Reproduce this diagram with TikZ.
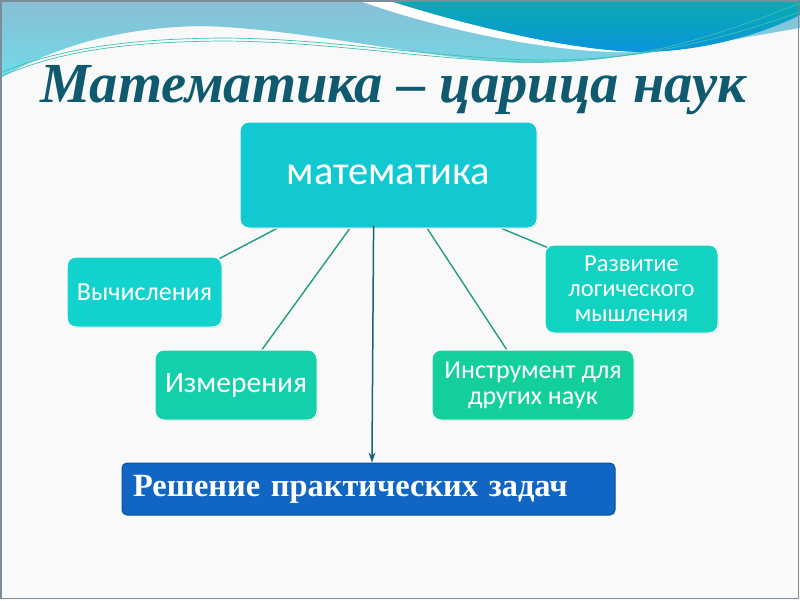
\documentclass[tikz,border=0pt]{standalone}
\usepackage{fontspec}
\setmainfont{Carlito}
\newfontfamily\titlefont{Liberation Serif}
\usetikzlibrary{calc,shadows,arrows.meta}
\definecolor{bgc}{HTML}{F9F9F9}
\definecolor{lightA}{HTML}{8ABED5}
\definecolor{lightB}{HTML}{6FDAE8}
\definecolor{darkA}{HTML}{0AAAB0}
\definecolor{darkB}{HTML}{0895DC}
\definecolor{wave}{HTML}{3EC2B2}
\definecolor{titlec}{HTML}{105A70}
\definecolor{boxcyan}{HTML}{12C9D2}
\definecolor{boxcyanB}{HTML}{12D2CE}
\definecolor{boxtur}{HTML}{12D2C2}
\definecolor{boxgreen}{HTML}{14D0AA}
\definecolor{boxgreenB}{HTML}{12CF9C}
\definecolor{boxblue}{HTML}{1166C4}
\definecolor{boxblueE}{HTML}{0B4F9E}
\definecolor{linkc}{HTML}{1E9E82}
\definecolor{arrowc}{HTML}{1A6278}
\definecolor{framec}{HTML}{7C8C9A}
\pgfdeclarelayer{bg}
\pgfdeclarelayer{links}
\pgfsetlayers{bg,links,main}
\begin{document}
\begin{tikzpicture}[x=1pt,y=-1pt,
  box/.style={rounded corners=9pt, draw=white, line width=1pt, text=white, align=center, inner sep=2pt,
    drop shadow={shadow xshift=0.8pt,shadow yshift=-0.8pt,opacity=0.35}},
  link/.style={draw=linkc, line width=1.4pt},
  waveline/.style={draw=wave, line width=0.7pt}]
\useasboundingbox (0,0) rectangle (800,600);
\begin{pgfonlayer}{bg}
\fill[bgc] (0,0) rectangle (800,600);
\shade[top color=lightA, bottom color=lightB]
  (0,0) -- (800,0) -- (800,28) .. controls (700,45) and (600,64) .. (520,63)
  .. controls (420,58) and (300,28) .. (200,26) .. controls (110,28) and (50,50) .. (0,78) -- cycle;
\fill[white] (357,0) -- (387,0) .. controls (450,20) and (560,50) .. (640,52)
  .. controls (560,55) and (440,30) .. (357,0) -- cycle;
\shade[top color=darkA, bottom color=darkB]
  (387,0) -- (800,0) -- (800,15) .. controls (760,35) and (700,52) .. (640,52)
  .. controls (560,50) and (450,20) .. (387,0) -- cycle;
\draw[waveline] (0,77) .. controls (60,50) and (130,42) .. (220,41) .. controls (330,41) and (440,62) .. (540,62) .. controls (640,62) and (720,35) .. (800,3);
\draw[waveline] (0,73) .. controls (60,48) and (130,39) .. (220,38) .. controls (330,38) and (440,59) .. (540,60) .. controls (640,61) and (720,40) .. (800,12);
\draw[framec, line width=1.5pt] (1,1) rectangle (798.5,598.5);
\end{pgfonlayer}

\node[anchor=base west, text=titlec, inner sep=0pt, font=\titlefont\bfseries\itshape\fontsize{56.6}{60}\selectfont] (title) at (40,102) {Математика – царица наук};

\node[box, fill=boxcyan, minimum width=297pt, minimum height=106pt, font=\fontsize{40.5}{44}\selectfont] (m) at (388.5,175) {математика};
\node[box, fill=boxcyanB, minimum width=155pt, minimum height=70pt, font=\fontsize{26}{28}\selectfont] (v) at (144.5,292) {Вычисления};
\node[box, fill=boxgreen, minimum width=162pt, minimum height=70pt, font=\fontsize{29.5}{32}\selectfont] (iz) at (236,385) {Измерения};
\node[box, fill=boxtur, minimum width=173pt, minimum height=88pt, font=\fontsize{24.5}{25}\selectfont] (r) at (631.5,289) {Развитие\\логического\\мышления};
\node[box, fill=boxgreenB, minimum width=202pt, minimum height=70pt, font=\fontsize{26}{26}\selectfont] (in) at (533,385) {Инструмент для\\других наук};
\node[rounded corners=5pt, draw=boxblueE, line width=1pt, fill=boxblue, text=white, minimum height=52pt,
  text width=471pt, align=left, inner xsep=11pt, font=\titlefont\bfseries\fontsize{32.4}{34}\selectfont] (s) at (368.5,489) {Решение практических задач};

\begin{pgfonlayer}{links}
\draw[link] ($(m.south west)!0.125!(m.south east)$) -- ($(v.north east)+(-3,2)$);
\draw[link] ($(m.south west)!0.37!(m.south east)$) -- ($(iz.north west)!0.66!(iz.north east)$);
\draw[link] ($(m.south west)!0.63!(m.south east)$) -- ($(in.north west)!0.37!(in.north east)$);
\draw[link] ($(m.south west)!0.88!(m.south east)$) -- ($(r.north west)+(3,3)$);
\end{pgfonlayer}
\draw[arrowc, line width=1.5pt, -{Stealth[length=10pt,width=7pt]}] ($(m.south west)!0.45!(m.south east)+(0,-3)$) -- ($(s.north west)!0.507!(s.north east)$);
\end{tikzpicture}
\end{document}
